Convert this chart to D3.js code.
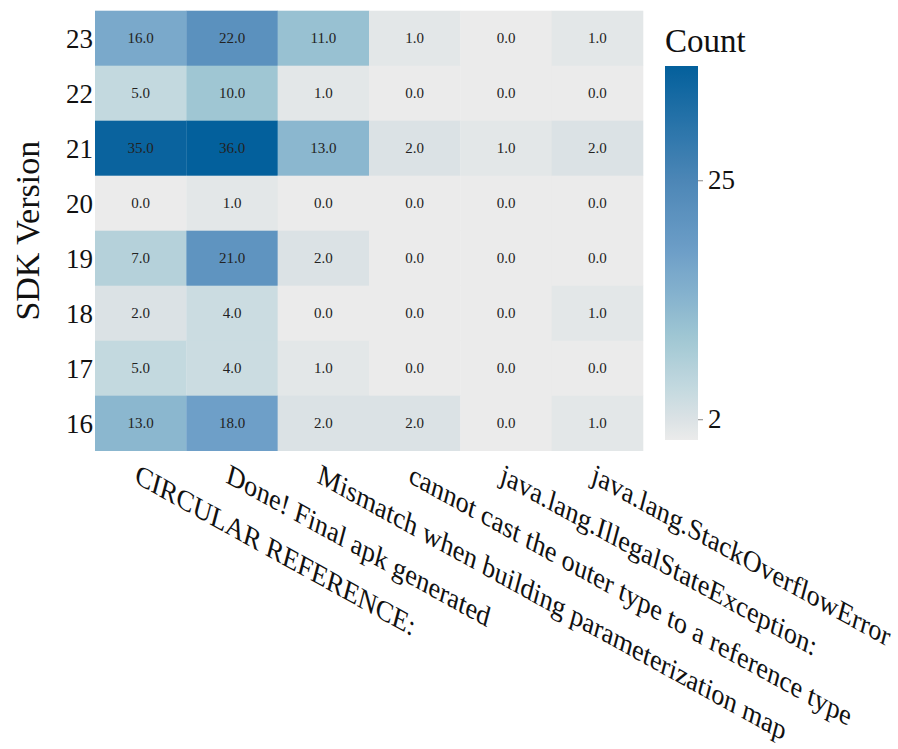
<!DOCTYPE html>
<html>
<head>
<meta charset="utf-8">
<script src="https://cdn.jsdelivr.net/npm/d3@7"></script>
<style>
  html, body { margin: 0; padding: 0; background: #ffffff; }
  svg text { font-family: "Liberation Serif", "DejaVu Serif", serif; }
</style>
</head>
<body>
<svg id="chart" width="898" height="749"></svg>
<script>
// SDK versions (top to bottom) and error categories (left to right)
const sdkVersions = ["23", "22", "21", "20", "19", "18", "17", "16"];
const errorTypes = [
  "CIRCULAR REFERENCE:",
  "Done! Final apk generated",
  "Mismatch when building parameterization map",
  "cannot cast the outer type to a reference type",
  "java.lang.IllegalStateException:",
  "java.lang.StackOverflowError"
];
// counts per SDK version, one row per version in the order above
const counts = [
  [16, 22, 11, 1, 0, 1],
  [5, 10, 1, 0, 0, 0],
  [35, 36, 13, 2, 1, 2],
  [0, 1, 0, 0, 0, 0],
  [7, 21, 2, 0, 0, 0],
  [2, 4, 0, 0, 0, 1],
  [5, 4, 1, 0, 0, 0],
  [13, 18, 2, 2, 0, 1]
];
const colorbarTicks = [2, 25];
const countRange = [0, 36];

// colour ramp: light gray through pale teal to deep blue
const rampStops = [0, 2, 5, 10, 13, 18, 25, 36];
const rampColors = ["#ebebeb", "#dbe2e5", "#c3d9df", "#9fc6d3", "#8bb7cf", "#6e9fc8", "#4c86b6", "#03609c"];

const svg = d3.select("#chart");

const plot = { left: 95, top: 10.7, width: 548, height: 440 };

const x = d3.scaleBand().domain(errorTypes).range([plot.left, plot.left + plot.width]).padding(0);
const y = d3.scaleBand().domain(sdkVersions).range([plot.top, plot.top + plot.height]).padding(0);
const color = d3.scaleLinear().domain(rampStops).range(rampColors).interpolate(d3.interpolateRgb).clamp(true);

const cells = [];
counts.forEach((row, i) => row.forEach((v, j) => cells.push({ sdk: sdkVersions[i], err: errorTypes[j], v })));

const g = svg.append("g");
g.selectAll("rect.cell").data(cells).join("rect")
  .attr("class", "cell")
  .attr("x", d => x(d.err))
  .attr("y", d => y(d.sdk))
  .attr("width", x.bandwidth() + 0.3)
  .attr("height", y.bandwidth() + 0.3)
  .attr("fill", d => color(d.v));

g.selectAll("text.val").data(cells).join("text")
  .attr("class", "val")
  .attr("x", d => x(d.err) + x.bandwidth() / 2)
  .attr("y", d => y(d.sdk) + y.bandwidth() / 2 + 5)
  .attr("text-anchor", "middle")
  .attr("font-size", 15)
  .attr("fill", "#222")
  .text(d => d.v.toFixed(1));

// y axis labels
svg.append("g").selectAll("text").data(sdkVersions).join("text")
  .attr("x", 93)
  .attr("y", d => y(d) + y.bandwidth() / 2 + 10)
  .attr("text-anchor", "end")
  .attr("font-size", 27)
  .attr("fill", "#111")
  .text(d => d);

svg.append("text")
  .attr("transform", `translate(39, ${plot.top + plot.height / 2}) rotate(-90)`)
  .attr("text-anchor", "middle")
  .attr("font-size", 34)
  .attr("fill", "#111")
  .text("SDK Version");

// slanted x axis labels
const A = 29 * Math.PI / 180, B = 15 * Math.PI / 180;
svg.append("g").selectAll("text").data(errorTypes).join("text")
  .attr("transform", d => `translate(${x(d) + x.bandwidth() / 2 - 7}, 482) matrix(${Math.cos(A)}, ${Math.sin(A)}, ${-Math.sin(B)}, ${Math.cos(B)}, 0, 0)`)
  .attr("text-anchor", "start")
  .attr("font-size", 28.2)
  .attr("fill", "#111")
  .text(d => d);

// colour bar
const cb = { x: 665, y: 66, w: 33, h: 374 };
const defs = svg.append("defs");
const grad = defs.append("linearGradient").attr("id", "cbar").attr("x1", 0).attr("y1", 1).attr("x2", 0).attr("y2", 0);
d3.range(0, 37).forEach(v => {
  grad.append("stop").attr("offset", v / 36).attr("stop-color", color(v));
});
svg.append("rect")
  .attr("x", cb.x).attr("y", cb.y).attr("width", cb.w).attr("height", cb.h)
  .attr("fill", "url(#cbar)");

const cbScale = d3.scaleLinear().domain(countRange).range([cb.y + cb.h, cb.y]);
const cbAxis = d3.axisRight(cbScale).tickValues(colorbarTicks).tickSize(5).tickPadding(5).tickFormat(d3.format("d"));
const cbG = svg.append("g").attr("transform", `translate(${cb.x + cb.w}, 0)`).call(cbAxis);
cbG.select(".domain").remove();
cbG.selectAll(".tick line").attr("stroke", "#888");
cbG.selectAll(".tick text")
  .attr("font-family", "Liberation Serif, serif")
  .attr("font-size", 27)
  .attr("fill", "#111");

svg.append("text")
  .attr("x", cb.x)
  .attr("y", 52)
  .attr("font-size", 33)
  .attr("fill", "#111")
  .text("Count");
</script>
</body>
</html>
